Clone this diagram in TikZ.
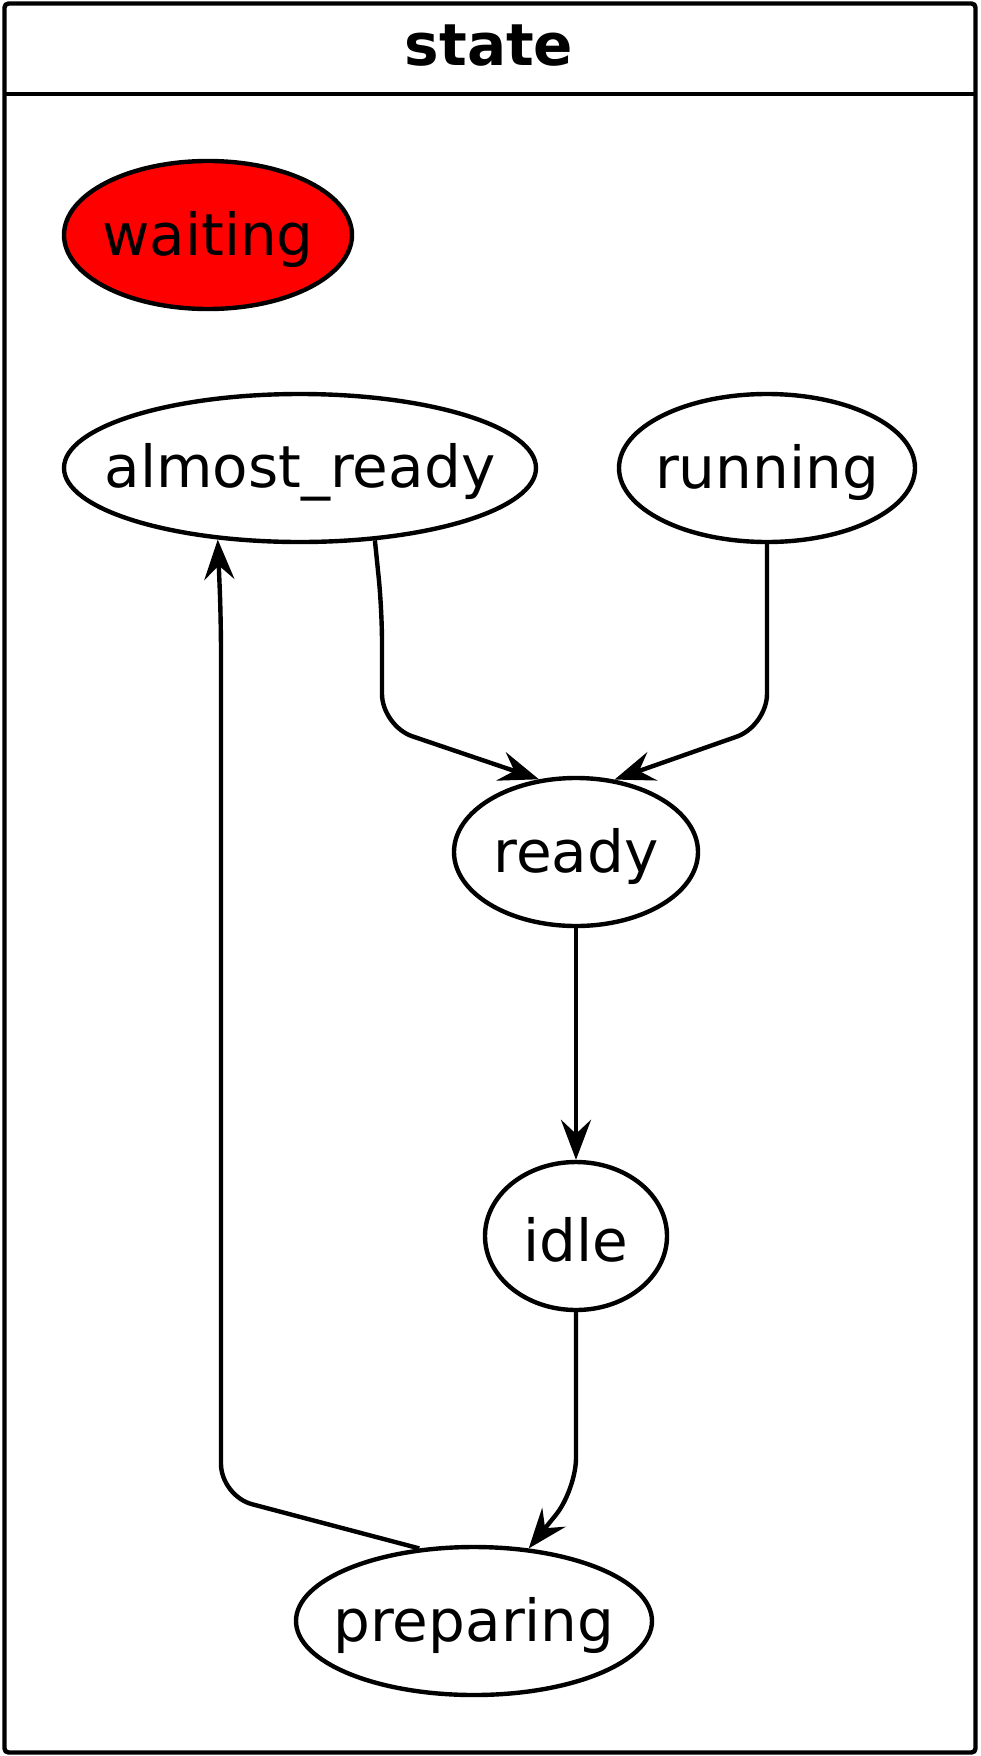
\documentclass[tikz,border=0pt]{standalone}
\usepackage{fontspec}
\setmainfont{DejaVu Sans}
\usetikzlibrary{arrows.meta,shapes.geometric}

\tikzset{
  stnode/.style={ellipse, draw, line width=2.2pt, inner sep=0pt, minimum height=74pt},
  stlabel/.style={font=\fontsize{29}{34}\selectfont, inner sep=0pt, yshift=-2pt},
  trans/.style={draw, line width=2.2pt, rounded corners=16pt, -{Stealth[length=20pt,width=15pt,inset=7pt]}},
}

\begin{document}
\begin{tikzpicture}[x=0.5pt, y=-0.5pt]
  \useasboundingbox (0,0) rectangle (980,1756);

  % frame and title
  \draw[line width=2.2pt, rounded corners=2pt] (4.5,3.5) rectangle (975.5,1752.5);
  \draw[line width=2.2pt] (4.5,94) -- (975.5,94);
  \node[font=\bfseries\fontsize{29}{34}\selectfont] (title) at (489,46) {state};

  % states
  \node[stnode, fill=red, minimum width=144pt] (waiting) at (208,235) {};
  \node[stlabel] (waitingl) at (waiting) {waiting};

  \node[stnode, minimum width=236pt] (almost_ready) at (300,468) {};
  \node[stlabel] (almost_readyl) at (almost_ready) {almost\_ready};

  \node[stnode, minimum width=148pt] (running) at (767,468) {};
  \node[stlabel] (runningl) at (running) {running};

  \node[stnode, minimum width=122pt] (ready) at (576,852) {};
  \node[stlabel] (readyl) at (ready) {ready};

  \node[stnode, minimum width=91pt] (idle) at (576,1236) {};
  \node[stlabel] (idlel) at (idle) {idle};

  \node[stnode, minimum width=178pt] (preparing) at (474,1621) {};
  \node[stlabel] (preparingl) at (preparing) {preparing};

  % transitions
  \draw[trans] (almost_ready.-44) -- (382,610) -- (382,726) -- (ready.117);
  \draw[trans] (running.south) -- (767,726) -- (ready.62);
  \draw[trans] (ready) -- (idle);
  \draw[trans] (idle.south) -- (576,1490) -- (preparing.53);
  \draw[trans] (preparing.127) -- (221,1496) -- (221,620) -- (almost_ready.-139);
\end{tikzpicture}
\end{document}
